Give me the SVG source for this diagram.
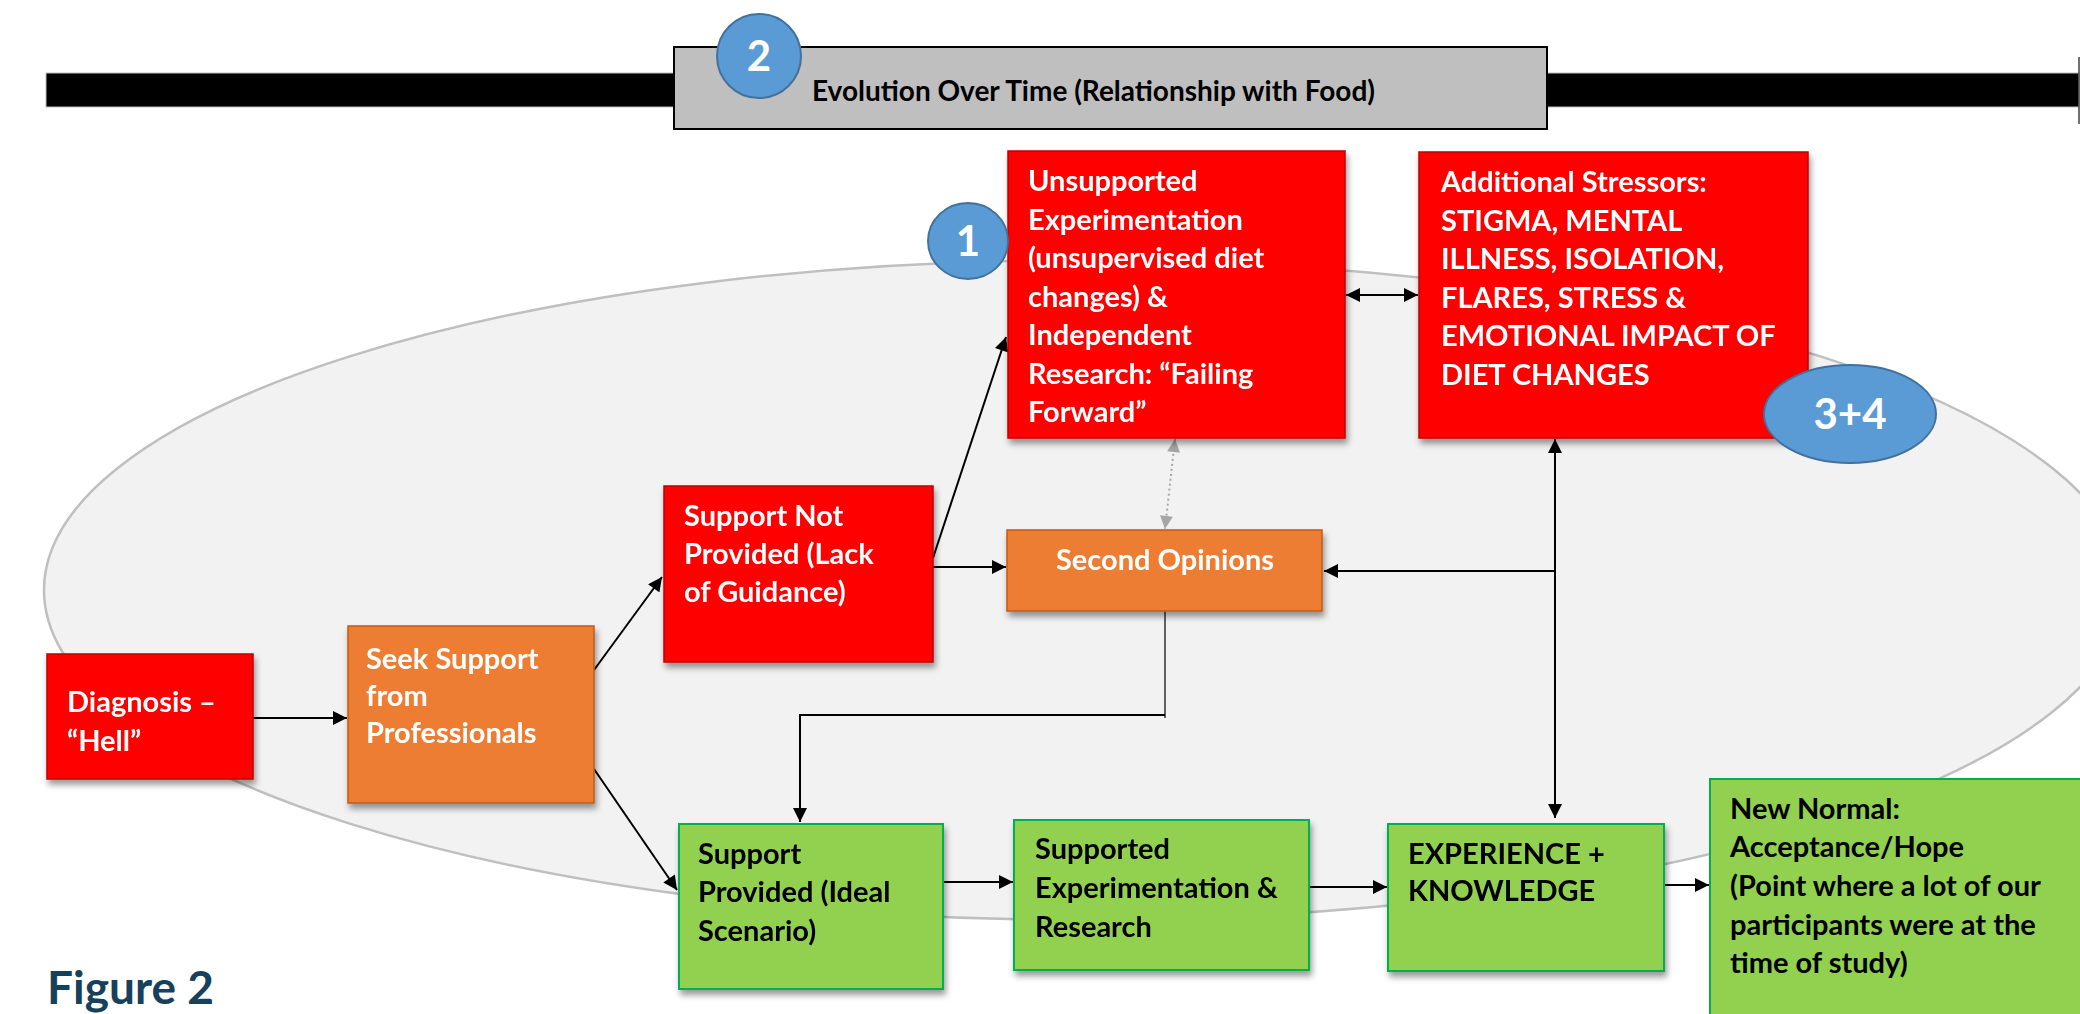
<svg xmlns="http://www.w3.org/2000/svg" width="2080" height="1014" viewBox="0 0 2080 1014">
<defs>
<style>
text{font-family:Lato,"Liberation Sans",sans-serif;font-weight:bold;font-size:29px}
.w{fill:#fff}
.k{fill:#000}
.red{fill:#FF0000;stroke:#C00000;stroke-width:1.5}
.org{fill:#ED7D31;stroke:#C55A11;stroke-width:1.5}
.grn{fill:#92D050;stroke:#00B050;stroke-width:2}
.badge{fill:#5B9BD5;stroke:#41719C;stroke-width:2}
.badge-t{fill:#fff;font-size:42px;text-anchor:middle}
.ln{fill:none;stroke:#000;stroke-width:2}
.dot{fill:none;stroke:#A6A6A6;stroke-width:2;stroke-dasharray:2 3}
</style>
<filter id="sh" x="-10%" y="-10%" width="130%" height="130%">
<feDropShadow dx="2" dy="5" stdDeviation="3" flood-color="#000" flood-opacity="0.4"/>
</filter>
<marker id="ah" viewBox="0 0 10 10" refX="10" refY="5" markerWidth="15" markerHeight="14" markerUnits="userSpaceOnUse" orient="auto-start-reverse">
<path d="M0,0 L10,5 L0,10 z" fill="#000"/>
</marker>
<marker id="ag" viewBox="0 0 10 10" refX="10" refY="5" markerWidth="14" markerHeight="13" markerUnits="userSpaceOnUse" orient="auto-start-reverse">
<path d="M0,0 L10,5 L0,10 z" fill="#A6A6A6"/>
</marker>
</defs>
<rect width="2080" height="1014" fill="#fff"/>

<g id="background">
<ellipse cx="1085" cy="590" rx="1041" ry="330" fill="#F2F2F2" stroke="#BFBFBF" stroke-width="2.5"/>
</g>

<g id="timeline">
<rect x="46" y="73" width="2033" height="34" fill="#000" stroke="#BFBFBF" stroke-width="1"/>
<line x1="2079" y1="57" x2="2079" y2="124" stroke="#404040" stroke-width="1.5"/>
<rect x="674" y="47" width="873" height="82" fill="#BFBFBF" stroke="#000" stroke-width="2"/>
<text x="812" y="101" class="k" style="font-size:28px">Evolution Over Time (Relationship with Food)</text>
</g>

<g id="connectors">
<line class="ln" x1="253" y1="718" x2="347" y2="718" marker-end="url(#ah)"/>
<line class="ln" x1="594" y1="670" x2="662" y2="577" marker-end="url(#ah)"/>
<line class="ln" x1="594" y1="769" x2="677" y2="890" marker-end="url(#ah)"/>
<line class="ln" x1="933" y1="558" x2="1006" y2="337" marker-end="url(#ah)"/>
<line class="ln" x1="933" y1="567" x2="1006" y2="567" marker-end="url(#ah)"/>
<line class="dot" x1="1175" y1="439" x2="1165" y2="529" marker-start="url(#ag)" marker-end="url(#ag)"/>
<line class="ln" x1="1346" y1="295" x2="1418" y2="295" marker-start="url(#ah)" marker-end="url(#ah)"/>
<line class="ln" x1="1555" y1="439" x2="1555" y2="818" marker-start="url(#ah)" marker-end="url(#ah)"/>
<line class="ln" x1="1556" y1="571" x2="1324" y2="571" marker-end="url(#ah)"/>
<line x1="1165" y1="611" x2="1165" y2="718" stroke="#000" stroke-width="1.2"/>
<polyline class="ln" points="1165,715 800,715 800,822" marker-end="url(#ah)"/>
<line class="ln" x1="943" y1="882" x2="1013" y2="882" marker-end="url(#ah)"/>
<line class="ln" x1="1309" y1="887" x2="1387" y2="887" marker-end="url(#ah)"/>
<line class="ln" x1="1664" y1="885" x2="1709" y2="885" marker-end="url(#ah)"/>
</g>

<g id="diagnosis" filter="url(#sh)">
<rect class="red" x="47" y="654" width="206" height="125"/>
<text class="w"><tspan x="67" y="712">Diagnosis –</tspan><tspan x="67" y="751">“Hell”</tspan></text>
</g>

<g id="seek-support" filter="url(#sh)">
<rect class="org" x="348" y="626" width="246" height="177"/>
<text class="w"><tspan x="366" y="669">Seek Support</tspan><tspan x="366" y="706">from</tspan><tspan x="366" y="743">Professionals</tspan></text>
</g>

<g id="support-not-provided" filter="url(#sh)">
<rect class="red" x="664" y="486" width="269" height="176"/>
<text class="w"><tspan x="684" y="526">Support Not</tspan><tspan x="684" y="564">Provided (Lack</tspan><tspan x="684" y="602">of Guidance)</tspan></text>
</g>

<g id="second-opinions" filter="url(#sh)">
<rect class="org" x="1007" y="530" width="315" height="81"/>
<text class="w" x="1165" y="570" text-anchor="middle">Second Opinions</text>
</g>

<g id="unsupported-experimentation" filter="url(#sh)">
<rect class="red" x="1008" y="151" width="337" height="287"/>
<text class="w"><tspan x="1028" y="191">Unsupported</tspan><tspan x="1028" y="229.5">Experimentation</tspan><tspan x="1028" y="268">(unsupervised diet</tspan><tspan x="1028" y="306.5">changes) &amp;</tspan><tspan x="1028" y="345">Independent</tspan><tspan x="1028" y="383.5">Research: “Failing</tspan><tspan x="1028" y="422">Forward”</tspan></text>
</g>

<g id="additional-stressors" filter="url(#sh)">
<rect class="red" x="1419" y="152" width="389" height="286"/>
<text class="w"><tspan x="1441" y="192">Additional Stressors:</tspan><tspan x="1441" y="230.5">STIGMA, MENTAL</tspan><tspan x="1441" y="269">ILLNESS, ISOLATION,</tspan><tspan x="1441" y="307.5">FLARES, STRESS &amp;</tspan><tspan x="1441" y="346">EMOTIONAL IMPACT OF</tspan><tspan x="1441" y="384.5">DIET CHANGES</tspan></text>
</g>

<g id="support-provided" filter="url(#sh)">
<rect class="grn" x="679" y="824" width="264" height="165"/>
<text class="k"><tspan x="698" y="864">Support</tspan><tspan x="698" y="902">Provided (Ideal</tspan><tspan x="698" y="941">Scenario)</tspan></text>
</g>

<g id="supported-experimentation" filter="url(#sh)">
<rect class="grn" x="1014" y="820" width="295" height="150"/>
<text class="k"><tspan x="1035" y="859">Supported</tspan><tspan x="1035" y="898">Experimentation &amp;</tspan><tspan x="1035" y="937">Research</tspan></text>
</g>

<g id="experience-knowledge" filter="url(#sh)">
<rect class="grn" x="1388" y="824" width="276" height="147"/>
<text class="k"><tspan x="1408" y="864">EXPERIENCE +</tspan><tspan x="1408" y="901">KNOWLEDGE</tspan></text>
</g>

<g id="new-normal">
<rect class="grn" x="1710" y="779" width="380" height="250"/>
<text class="k"><tspan x="1730" y="819">New Normal:</tspan><tspan x="1730" y="857">Acceptance/Hope</tspan><tspan x="1730" y="896">(Point where a lot of our</tspan><tspan x="1730" y="935">participants were at the</tspan><tspan x="1730" y="973">time of study)</tspan></text>
</g>

<g id="badge-1">
<ellipse class="badge" cx="968" cy="241" rx="40" ry="38"/>
<text class="badge-t" x="968" y="256">1</text>
</g>

<g id="badge-2">
<ellipse class="badge" cx="759" cy="56" rx="42" ry="42"/>
<text class="badge-t" x="759" y="71">2</text>
</g>

<g id="badge-3-4">
<ellipse class="badge" cx="1850" cy="414" rx="86" ry="49"/>
<text class="badge-t" x="1850" y="429">3+4</text>
</g>

<text x="47" y="1004" style="font-size:46px;fill:#16405B">Figure 2</text>
</svg>
